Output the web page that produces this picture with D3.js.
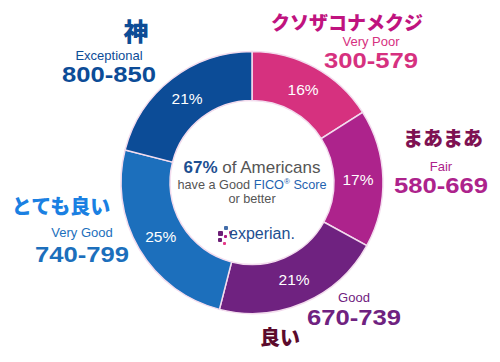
<!DOCTYPE html>
<html>
<head>
<meta charset="utf-8">
<style>
  body{ margin:0; background:#fff; }
  svg text{ font-family: "Liberation Sans", Arial, sans-serif; }
  .jp{ font-family: "Noto Sans CJK JP", sans-serif; font-weight:900; paint-order: stroke; stroke:#fff; stroke-width:2px; }
</style>
<script src="https://d3js.org/d3.v7.min.js"></script>
</head>
<body>
<svg id="vis"></svg>
<script>
  var width = 500, height = 362;

  // data
  var categories = ["Very Poor", "Fair", "Good", "Very Good", "Exceptional"];
  var ranges = ["300-579", "580-669", "670-739", "740-799", "800-850"];
  var shares = [16, 17, 21, 25, 21];
  var jpLabels = ["クソザコナメクジ", "まあまあ", "良い", "とても良い", "神"];

  // colors
  var colors = ["#d6317f", "#ad238c", "#6f2280", "#1c6fbc", "#0c4c97"];
  var jpColors = ["#c0137f", "#7e1152", "#5c0b2c", "#1a80e2", "#0d4c96"];

  var cx = 252, cy = 182.5, outerR = 131, innerR = 82;

  var svg = d3.select("#vis")
    .attr("width", width)
    .attr("height", height);

  var pie = d3.pie().sort(null).value(function(d){ return d; });
  var arc = d3.arc().innerRadius(innerR).outerRadius(outerR);
  var labelArc = d3.arc().innerRadius(106).outerRadius(106);

  var g = svg.append("g").attr("transform", "translate(" + cx + "," + cy + ")");

  var slices = g.selectAll(".slice")
    .data(pie(shares))
    .enter().append("g").attr("class", "slice");

  slices.append("path")
    .attr("d", arc)
    .style("fill", function(d, i){ return colors[i]; })
    .style("stroke", "#f3dcee")
    .style("stroke-width", 1.5);

  slices.append("text")
    .attr("transform", function(d){ return "translate(" + labelArc.centroid(d) + ")"; })
    .attr("text-anchor", "middle")
    .attr("dy", "0.36em")
    .style("fill", "#fff")
    .style("font-size", "15.5px")
    .text(function(d){ return d.data + "%"; });

  // outside labels -------------------------------------------------
  var labelPos = [
    {x: 371, jpY: 30, catY: 46, rangeY: 68, jpX: 347},
    {x: 441, jpY: 146, catY: 171, rangeY: 193, jpX: 443},
    {x: 354, jpY: 345, catY: 302, rangeY: 325, jpX: 280},
    {x: 82,  jpY: 214, catY: 237, rangeY: 262, jpX: 61},
    {x: 109, jpY: 41,  catY: 60,  rangeY: 82, jpX: 136}
  ];

  var outer = svg.selectAll(".outer")
    .data(categories)
    .enter().append("g").attr("class", "outer");

  outer.append("text")
    .attr("x", function(d, i){ return labelPos[i].x; })
    .attr("y", function(d, i){ return labelPos[i].catY; })
    .attr("text-anchor", "middle")
    .style("font-size", "13px")
    .style("fill", function(d, i){ return colors[i]; })
    .text(function(d){ return d; });

  outer.append("text")
    .attr("x", function(d, i){ return labelPos[i].x; })
    .attr("y", function(d, i){ return labelPos[i].rangeY; })
    .attr("text-anchor", "middle")
    .attr("textLength", 94)
    .attr("lengthAdjust", "spacingAndGlyphs")
    .style("font-size", "22px")
    .style("font-weight", "bold")
    .style("fill", function(d, i){ return colors[i]; })
    .text(function(d, i){ return ranges[i]; });

  outer.append("text")
    .attr("class", "jp")
    .attr("x", function(d, i){ return labelPos[i].jpX; })
    .attr("y", function(d, i){ return labelPos[i].jpY; })
    .attr("text-anchor", "middle")
    .style("font-size", function(d, i){ return i == 0 ? "19px" : (i == 4 ? "25px" : "20px"); })
    .style("fill", function(d, i){ return jpColors[i]; })
    .text(function(d, i){ return jpLabels[i]; });

  // center text -------------------------------------------------
  var t1 = svg.append("text")
    .attr("x", cx).attr("y", 173)
    .attr("text-anchor", "middle")
    .style("font-size", "17px")
    .style("fill", "#555");
  t1.append("tspan").style("font-weight", "bold").style("fill", "#1d4f91").text("67%");
  t1.append("tspan").text(" of Americans");

  var t2 = svg.append("text")
    .attr("x", cx).attr("y", 189)
    .attr("text-anchor", "middle")
    .style("font-size", "12.7px")
    .style("fill", "#555");
  t2.append("tspan").text("have a Good ");
  t2.append("tspan").style("fill", "#1f63b0").text("FICO");
  t2.append("tspan").style("fill", "#1f63b0").style("font-size", "8px").attr("dy", -5).text("®");
  t2.append("tspan").style("fill", "#1f63b0").attr("dy", 5).text(" Score");

  svg.append("text")
    .attr("x", cx).attr("y", 203)
    .attr("text-anchor", "middle")
    .style("font-size", "12.7px")
    .style("fill", "#555")
    .text("or better");

  // experian logo
  var dots = [
    {x: 224, y: 226, s: 4, c: "#426da9"},
    {x: 229, y: 231, s: 3, c: "#ba2f7d"},
    {x: 218, y: 231, s: 5, c: "#6d2077"},
    {x: 218, y: 238, s: 4, c: "#6d2077"},
    {x: 224, y: 235, s: 3, c: "#af1685"},
    {x: 223, y: 242, s: 3, c: "#e63888"}
  ];
  svg.selectAll(".dot")
    .data(dots)
    .enter().append("rect")
    .attr("x", function(d){ return d.x; })
    .attr("y", function(d){ return d.y; })
    .attr("width", function(d){ return d.s; })
    .attr("height", function(d){ return d.s; })
    .attr("rx", 1)
    .style("fill", function(d){ return d.c; });

  svg.append("text")
    .attr("x", 229).attr("y", 239)
    .style("font-size", "16px")
    .style("fill", "#1d4f91")
    .text("experian.");
</script>
</body>
</html>
